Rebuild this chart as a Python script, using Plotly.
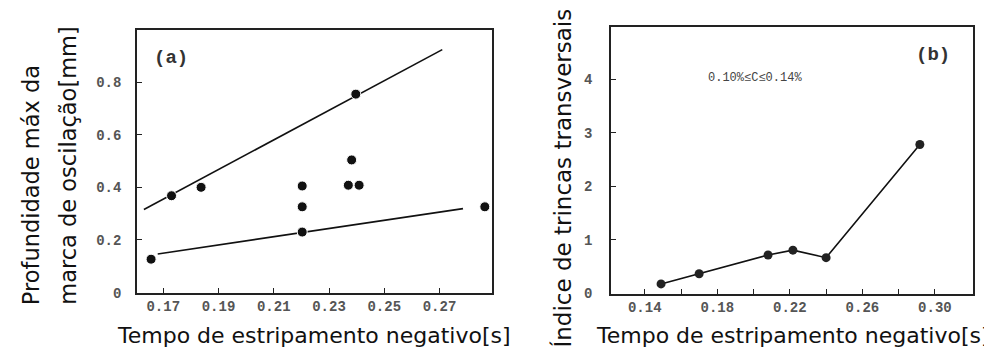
import plotly.graph_objects as go

W, H = 992, 356

# ---- Panel (a) data ----
a_x = [0.1656, 0.173, 0.1837, 0.2203, 0.2203, 0.2203, 0.2382, 0.237, 0.2409, 0.2397, 0.2864]
a_y = [0.127, 0.368, 0.400, 0.405, 0.326, 0.230, 0.504, 0.408, 0.408, 0.754, 0.326]
upper_x = [0.163, 0.271]
upper_y = [0.316, 0.923]
lower_x = [0.168, 0.2785]
lower_y = [0.147, 0.319]
a_xticks = [0.17, 0.19, 0.21, 0.23, 0.25, 0.27]
a_xticklabels = ["0.17", "0.19", "0.21", "0.23", "0.25", "0.27"]
a_yticks = [0, 0.2, 0.4, 0.6, 0.8]
a_yticklabels = ["0", "0.2", "0.4", "0.6", "0.8"]

# ---- Panel (b) data ----
b_x = [0.149, 0.170, 0.208, 0.2217, 0.240, 0.2917]
b_y = [0.18, 0.37, 0.72, 0.81, 0.67, 2.78]
b_xticks = [0.14, 0.18, 0.22, 0.26, 0.30]
b_xticklabels = ["0.14", "0.18", "0.22", "0.26", "0.30"]
b_xminor = [0.16, 0.20, 0.24, 0.28]
b_yticks = [0, 1, 2, 3, 4]
b_yticklabels = ["0", "1", "2", "3", "4"]

xtitle = "Tempo de estripamento negativo[s]"
a_ytitle1 = "Profundidade máx da"
a_ytitle2 = "marca de oscilação[mm]"
b_ytitle = "Índice de trincas transversais"


def px(x):
    return x / W


def py(y):
    return 1 - y / H


TITLE_FONT = dict(family="DejaVu Sans", size=22.5, color="#111")
XTITLE_FONT = dict(family="DejaVu Sans", size=22, color="#111")
TICK_FONT = dict(family="Liberation Mono", size=14, color="#555", weight="bold")

fig = go.Figure()
fig.add_trace(go.Scatter(x=upper_x, y=upper_y, mode="lines",
                         line=dict(color="#111", width=1.6), xaxis="x", yaxis="y", showlegend=False))
fig.add_trace(go.Scatter(x=lower_x, y=lower_y, mode="lines",
                         line=dict(color="#111", width=1.6), xaxis="x", yaxis="y", showlegend=False))
fig.add_trace(go.Scatter(x=a_x, y=a_y, mode="markers",
                         marker=dict(color="#111", size=10, line=dict(color="white", width=1)),
                         xaxis="x", yaxis="y", showlegend=False))
fig.add_trace(go.Scatter(x=b_x, y=b_y, mode="lines+markers",
                         line=dict(color="#111", width=1.6),
                         marker=dict(color="#222", size=9),
                         xaxis="x2", yaxis="y2", showlegend=False))

axis_common = dict(showline=True, mirror=True, linecolor="#222", linewidth=1.5,
                   showgrid=False, zeroline=False, ticks="inside", ticklen=5,
                   tickcolor="#222", tickwidth=1.3, tickfont=TICK_FONT)

fig.update_layout(
    width=W, height=H,
    margin=dict(l=0, r=0, t=0, b=0),
    paper_bgcolor="white", plot_bgcolor="white",
    xaxis=dict(domain=[px(129), px(484)], range=[0.1605, 0.289], anchor="y",
               tickvals=a_xticks, ticktext=a_xticklabels, ticklabelstandoff=0, **axis_common),
    yaxis=dict(domain=[py(292), py(23)], range=[0, 0.996], anchor="x",
               tickvals=a_yticks, ticktext=a_yticklabels, ticklabelstandoff=11, **axis_common),
    xaxis2=dict(domain=[px(603), px(965)], range=[0.1214, 0.321], anchor="y2",
                tickvals=b_xticks, ticktext=b_xticklabels, ticklabelstandoff=0,
                minor=dict(tickvals=b_xminor, ticks="inside", ticklen=5,
                           tickcolor="#222", tickwidth=1.3),
                **axis_common),
    yaxis2=dict(domain=[py(293), py(19)], range=[0, 4.98], anchor="x2",
                tickvals=b_yticks, ticktext=b_yticklabels, ticklabelstandoff=14, **axis_common),
)

ann = []
# axis titles
ann.append(dict(text=xtitle, x=px(306), y=py(336), xref="paper", yref="paper",
                xanchor="center", yanchor="middle", showarrow=False, font=XTITLE_FONT))
ann.append(dict(text=xtitle, x=px(785), y=py(336), xref="paper", yref="paper",
                xanchor="center", yanchor="middle", showarrow=False, font=XTITLE_FONT))
ann.append(dict(text=a_ytitle1, x=px(23), y=py(307), xref="paper", yref="paper",
                xanchor="center", yanchor="bottom", textangle=-90, showarrow=False, font=TITLE_FONT))
ann.append(dict(text=a_ytitle2, x=px(60), y=py(307), xref="paper", yref="paper",
                xanchor="center", yanchor="bottom", textangle=-90, showarrow=False, font=TITLE_FONT))
ann.append(dict(text=b_ytitle, x=px(555), y=py(175), xref="paper", yref="paper",
                xanchor="center", yanchor="middle", textangle=-90, showarrow=False,
                font=dict(family="DejaVu Sans", size=23, color="#111")))
# panel labels
ann.append(dict(text="<b>(a)</b>", x=px(163), y=py(51), xref="paper", yref="paper",
                xanchor="center", yanchor="middle", showarrow=False,
                font=dict(family="Liberation Mono", size=19, color="#333")))
ann.append(dict(text="<b>(b)</b>", x=px(925), y=py(48), xref="paper", yref="paper",
                xanchor="center", yanchor="middle", showarrow=False,
                font=dict(family="Liberation Mono", size=19, color="#333")))
ann.append(dict(text="0.10%≤C≤0.14%", x=px(747), y=py(72), xref="paper", yref="paper",
                xanchor="center", yanchor="middle", showarrow=False,
                font=dict(family="Liberation Mono", size=12, color="#444")))
fig.update_layout(annotations=ann)

fig.write_html("out.html")
